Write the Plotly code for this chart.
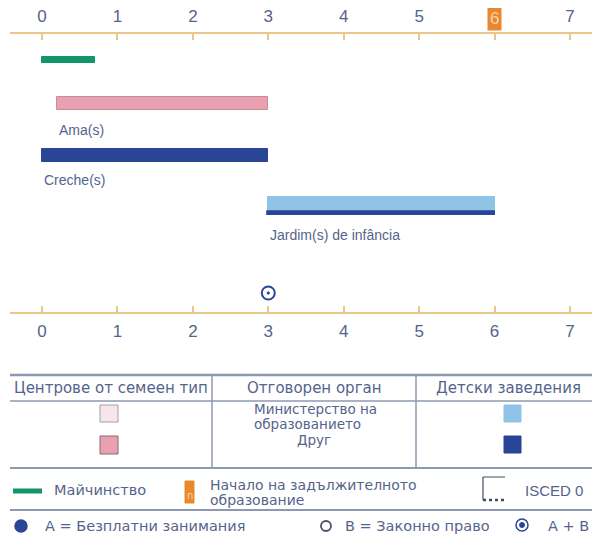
import plotly.graph_objects as go

# ---- data ----
categories = ["Майчинство", "Ama(s)", "Creche(s)", "Jardim(s) de infância"]
start_age = [0.0, 0.2, 0.0, 3.0]
end_age = [0.7, 3.0, 3.0, 6.0]
compulsory_age = 6
entitlement_age = 3  # A + B
tick_vals = [0, 1, 2, 3, 4, 5, 6, 7]
tick_text = ["0", "1", "2", "3", "4", "5", "6", "7"]

# ---- style ----
# The page body has an 8px margin, so the figure is sized to fill the rest of the window
OX, OY = 8, 8
SW, SH = 600, 537
W, H = SW - OX, SH - OY
GREEN = "#13956a"
PINK = "#e9a1b1"
PINK_LIGHT = "#f6e6ea"
DARK = "#2b4596"
LIGHT = "#8fc3e6"
AXIS = "#e9c98a"
ORANGE = "#e8892d"
TXT = "#55648c"
GRID = "#8e98b3"
NUMF = "Liberation Sans Narrow, Liberation Sans"

def PX(x):  # screen x -> paper
    return (x - OX) / W

# row layout (vertical screen positions)
row_y = [60, 103.5, 155.5, 204]
row_w = [6, 13, 13, 14]
row_col = [GREEN, PINK, DARK, LIGHT]
row_line = [GREEN, "#c98a9a", DARK, LIGHT]
label_y = [None, 130, 180, 235]

fig = go.Figure()
for i, c in enumerate(categories):
    fig.add_trace(go.Bar(
        orientation="h", y=[row_y[i]], x=[end_age[i] - start_age[i]], base=[start_age[i]],
        width=[row_w[i]], marker=dict(color=row_col[i], line=dict(color=row_line[i], width=1)),
        showlegend=False, hoverinfo="skip", name=c))
# dark underline of Jardim (other authority)
fig.add_trace(go.Bar(
    orientation="h", y=[213], x=[end_age[3] - start_age[3]], base=[start_age[3]],
    width=[3], marker=dict(color=DARK, line=dict(color=DARK, width=1.8)),
    showlegend=False, hoverinfo="skip"))
# A+B marker
fig.add_trace(go.Scatter(
    x=[entitlement_age], y=[293], mode="markers",
    marker=dict(symbol="circle-open-dot", size=13, color=DARK, line=dict(color=DARK, width=2)),
    showlegend=False, hoverinfo="skip"))
# dummy trace for x2
fig.add_trace(go.Scatter(x=[0], y=[-100], xaxis="x2", mode="markers",
                         marker=dict(opacity=0), showlegend=False, hoverinfo="skip"))

for i in range(1, 4):
    fig.add_annotation(x=start_age[i], y=label_y[i], xref="x", yref="y", text=categories[i],
                       showarrow=False, xanchor="left", yanchor="middle",
                       font=dict(family="Liberation Sans", size=14, color=TXT))

# compulsory age highlight on top axis
fig.add_annotation(x=compulsory_age, y=18, xref="x", yref="y", text=str(compulsory_age),
                   showarrow=False, bgcolor=ORANGE, borderpad=2,
                   font=dict(family=NUMF, size=17, color="#f8d2ae"))

px_per = 75.43
x0px = 42
rng = [(10 - x0px) / px_per, (SW - x0px) / px_per]
top_tick_text = ["" if v == compulsory_age else t for v, t in zip(tick_vals, tick_text)]

axis_common = dict(range=rng, tickvals=tick_vals, showline=True,
                   linecolor=AXIS, linewidth=2, ticks="inside", ticklen=6, tickcolor=AXIS,
                   tickwidth=1.5, showgrid=False, zeroline=False, domain=[PX(10), 1],
                   automargin=False, ticklabelstandoff=3,
                   tickfont=dict(family=NUMF, size=17, color=TXT), fixedrange=True)

fig.update_layout(
    width=W, height=H, margin=dict(l=0, r=0, t=0, b=0, pad=0),
    paper_bgcolor="white", plot_bgcolor="white", barmode="overlay", bargap=0,
    xaxis=dict(side="top", anchor="free", position=1 - (33 - OY) / H,
               ticktext=top_tick_text, **axis_common),
    xaxis2=dict(side="bottom", anchor="free", position=1 - (313 - OY) / H, overlaying="x",
                ticktext=tick_text, **axis_common),
    yaxis=dict(range=[SH, OY], domain=[0, 1], visible=False, fixedrange=True, automargin=False),
)

shapes = []
def hline(y, x1=10, x2=600, w=2, color=GRID):
    shapes.append(dict(type="line", xref="paper", yref="y", x0=PX(x1), x1=PX(x2), y0=y, y1=y,
                       line=dict(color=color, width=w)))
def vline(x, y1, y2, w=1.5, color=GRID):
    shapes.append(dict(type="line", xref="paper", yref="y", x0=PX(x), x1=PX(x), y0=y1, y1=y2,
                       line=dict(color=color, width=w)))
def rect(x1, y1, x2, y2, fill, line=None, lw=1):
    shapes.append(dict(type="rect", xref="paper", yref="y", x0=PX(x1), x1=PX(x2), y0=y1, y1=y2,
                       fillcolor=fill, line=dict(color=line or fill, width=lw)))
def circ(cx, cy, r, fill, line, lw=1.5):
    shapes.append(dict(type="circle", xref="paper", yref="y", x0=PX(cx - r), x1=PX(cx + r),
                       y0=cy - r, y1=cy + r, fillcolor=fill, line=dict(color=line, width=lw)))

# table lines
hline(375, w=2.5)
hline(401, w=1.5)
hline(468, w=2)
hline(510, w=2)
vline(212, 375, 467)
vline(416, 375, 467)
# table squares
rect(100, 405, 118, 422, PINK_LIGHT, "#a0a0a8")
rect(100, 436, 118, 454, PINK, "#8a6a74")
rect(504, 405, 521, 422, LIGHT)
rect(504, 436, 521, 453, DARK)
# legend row 2
shapes.append(dict(type="line", xref="paper", yref="y", x0=PX(13), x1=PX(42), y0=491, y1=491,
                   line=dict(color=GREEN, width=5)))
rect(185, 481, 194, 503, ORANGE)
vline(483, 477, 500, w=1.2, color="#444a5a")
shapes.append(dict(type="line", xref="paper", yref="y", x0=PX(483), x1=PX(505), y0=477, y1=477,
                   line=dict(color="#444a5a", width=1)))
shapes.append(dict(type="line", xref="paper", yref="y", x0=PX(483), x1=PX(505), y0=500, y1=500,
                   line=dict(color="#444a5a", width=2.5, dash="dot")))
# legend row 3
circ(21, 526, 6, DARK, DARK)
circ(326, 526, 5, "white", "#4a5068", 1.8)
circ(522, 525, 6, "white", DARK, 1.5)
circ(522, 525, 2.5, DARK, DARK, 1)
fig.update_layout(shapes=shapes)

TF = "DejaVu Sans"
def txt(x, y, s, anchor="center", size=14.5, align="center", color=TXT, fam=TF):
    fig.add_annotation(x=PX(x), y=y, xref="paper", yref="y", text=s, showarrow=False,
                       xanchor=anchor, yanchor="middle", align=align,
                       font=dict(family=fam, size=size, color=color))

txt(111, 388, "Центрове от семеен тип", size=15)
txt(314, 388, "Отговорен орган", size=15)
txt(508, 388, "Детски заведения", size=15)
txt(252, 409, "Министерство на", anchor="left", size=13.5)
txt(252, 424, "образованието", anchor="left", size=13.5)
txt(314, 440, "Друг", size=13.5)
txt(52, 490, "Майчинство", anchor="left")
txt(189.5, 495, "n", size=10, color="#f8d2ae")
txt(208, 485, "Начало на задължителното", anchor="left", size=14)
txt(208, 500, "образование", anchor="left", size=14)
txt(523, 490, "ISCED 0", anchor="left", size=15, fam=NUMF)
txt(43, 526, "A = Безплатни занимания", anchor="left")
txt(343, 526, "B = Законно право", anchor="left")
txt(546, 526, "A + B", anchor="left")

fig.write_html("out.html")
